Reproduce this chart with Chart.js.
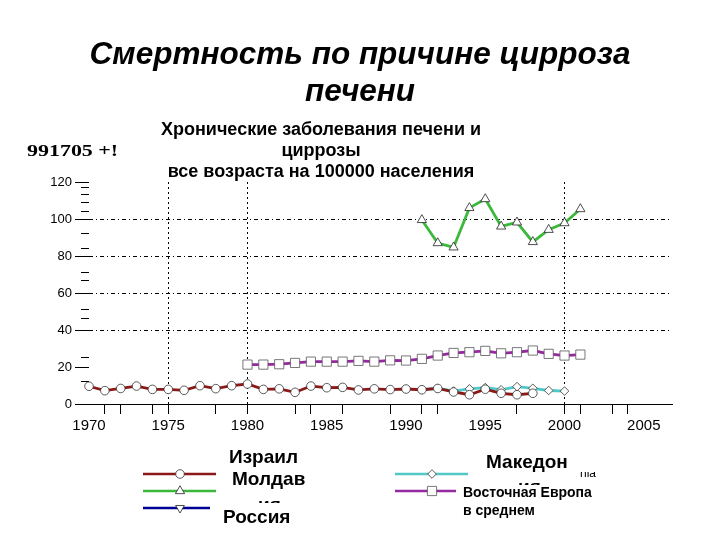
<!DOCTYPE html>
<html>
<head>
<meta charset="utf-8">
<script src="https://cdn.jsdelivr.net/npm/chart.js"></script>
<style>
  body { margin: 0; background: #fff; }
  #wrap { position: relative; width: 720px; height: 540px; overflow: hidden; font-family: "Liberation Sans", Arial, sans-serif; }
  #chart { position: absolute; left: 0; top: 0; }
  .t { position: absolute; white-space: nowrap; line-height: 1; color: #000; font-weight: bold; }
  .clip { position: absolute; overflow: hidden; }
  .clip span { position: absolute; left: 0; white-space: nowrap; line-height: 1; font-weight: bold; }
</style>
</head>
<body>
<div id="wrap">
  <canvas id="chart" width="720" height="540"></canvas>

  <div class="t" style="left:0; width:720px; top:35px; text-align:center; font-style:italic; font-size:31.5px; line-height:37px;">Смертность по причине цирроза<br>печени</div>
  <div class="t" style="left:121px; width:400px; top:119px; text-align:center; font-size:18px; line-height:21px;">Хронические заболевания печени и<br>циррозы<br>все возраста на 100000 населения</div>
  <div class="t" style="left:27px; top:143px; font-family:'Liberation Serif', 'Times New Roman', serif; font-size:16.5px; transform:scaleX(1.33); transform-origin:0 0;">991705 +!</div>

  <!-- legend labels -->
  <div class="t" style="left:229px; top:447px; font-size:19px;">Израил</div>
  <div class="t" style="left:232px; top:469px; font-size:19px;">Молдав</div>
  <div class="clip" style="left:258px; top:495px; width:40px; height:8px;"><span style="top:0; font-size:19px;">ия</span></div>
  <div class="t" style="left:223px; top:507px; font-size:19px;">Россия</div>

  <div class="t" style="left:486px; top:452px; font-size:19px;">Македон</div>
  <div class="clip" style="left:580px; top:472px; width:30px; height:7px;"><span style="top:-5px; font-size:12px; font-weight:normal;">nia</span></div>
  <div class="clip" style="left:518px; top:477px; width:30px; height:8px;"><span style="top:0; font-size:19px;">ия</span></div>
  <div class="t" style="left:463px; top:485px; font-size:14px;">Восточная Европа</div>
  <div class="t" style="left:463px; top:503px; font-size:14px;">в среднем</div>
</div>

<script>
// axis ticks
const labelYears = [1970, 1975, 1980, 1985, 1990, 1995, 2000, 2005];
const markYears = [1971, 1972, 1974, 1975, 1978, 1980, 1983, 1984, 1986, 1989, 1991, 1992, 1997, 2000, 2001, 2003, 2004];
const gridYears = [1975, 1980, 2000];
const yTicks = [0, 20, 40, 60, 80, 100, 120];
const yGridValues = [40, 60, 80, 100];
const yMinorTicks = [12, 25, 46, 51, 67, 71, 84, 92, 104, 109, 113, 117];

// series
const israelYears = [1970, 1971, 1972, 1973, 1974, 1975, 1976, 1977, 1978, 1979, 1980, 1981, 1982, 1983, 1984,
  1985, 1986, 1987, 1988, 1989, 1990, 1991, 1992, 1993, 1994, 1995, 1996, 1997, 1998];
const israel = [9.6, 7.2, 8.4, 9.7, 7.9, 7.9, 7.4, 9.9, 8.3, 9.9, 10.8, 7.9, 8.2, 6.3, 9.7,
  8.8, 9.0, 7.6, 8.2, 7.8, 8.1, 7.7, 8.4, 6.5, 5.0, 8.0, 5.8, 5.0, 5.8];

const moldovaYears = [1991, 1992, 1993, 1994, 1995, 1996, 1997, 1998, 1999, 2000, 2001];
const moldova = [99.5, 87, 84.7, 106, 110.8, 96, 98.2, 87.6, 94.2, 97.8, 105.4];

const russiaYears = [];
const russia = [];

const macedoniaYears = [1991, 1992, 1993, 1994, 1995, 1996, 1997, 1998, 1999, 2000];
const macedonia = [7.7, 8.5, 7.0, 8.2, 8.9, 7.7, 9.4, 8.5, 7.3, 7.0];

const eastEuropeYears = [1980, 1981, 1982, 1983, 1984, 1985, 1986, 1987, 1988, 1989, 1990,
  1991, 1992, 1993, 1994, 1995, 1996, 1997, 1998, 1999, 2000, 2001];
const eastEurope = [21.3, 21.3, 21.5, 22.2, 22.9, 22.9, 22.9, 23.3, 22.9, 23.6, 23.5,
  24.4, 26.2, 27.6, 28.0, 28.7, 27.4, 28.0, 28.9, 27.1, 26.2, 26.7];

const toPoints = (xs, ys) => xs.map((x, i) => ({ x: x, y: ys[i] }));
const allXTicks = [...new Set([...labelYears, ...markYears, ...gridYears])].sort((a, b) => a - b);

const series = [
  { label: 'Израиль', data: toPoints(israelYears, israel), color: 'rgb(140,24,24)', style: 'circle', radius: 4.3, rotation: 0, border: '#333' },
  { label: 'Молдавия', data: toPoints(moldovaYears, moldova), color: 'rgb(60,185,60)', style: 'triangle', radius: 5.3, rotation: 0, border: '#222' },
  { label: 'Россия', data: toPoints(russiaYears, russia), color: 'rgb(0,0,150)', style: 'triangle', radius: 5, rotation: 180, border: '#222' },
  { label: 'Macedonia', data: toPoints(macedoniaYears, macedonia), color: 'rgb(80,200,200)', style: 'rectRot', radius: 4.3, rotation: 0, border: '#333' },
  { label: 'Восточная Европа в среднем', data: toPoints(eastEuropeYears, eastEurope), color: 'rgb(150,40,160)', style: 'rect', radius: 6.5, rotation: 0, border: '#555' }
];

// legend samples under the plot
const legendSamples = [
  { x1: 143, x2: 216, y: 474, mx: 180 },
  { x1: 143, x2: 216, y: 491, mx: 180 },
  { x1: 143, x2: 210, y: 508, mx: 180 },
  { x1: 395, x2: 468, y: 474, mx: 432 },
  { x1: 395, x2: 456, y: 491, mx: 432 }
];

const legendPlugin = {
  id: 'bottomLegend',
  afterDraw(chart) {
    const ctx = chart.ctx;
    series.forEach((s, i) => {
      const p = legendSamples[i];
      ctx.save();
      ctx.strokeStyle = s.color;
      ctx.lineWidth = 2.5;
      ctx.beginPath();
      ctx.moveTo(p.x1, p.y);
      ctx.lineTo(p.x2, p.y);
      ctx.stroke();
      ctx.fillStyle = '#fff';
      ctx.strokeStyle = s.border;
      ctx.lineWidth = 0.8;
      Chart.helpers.drawPoint(ctx, { pointStyle: s.style, radius: s.radius, rotation: s.rotation, borderWidth: 0.8 }, p.mx, p.y);
      ctx.restore();
    });
  }
};

new Chart(document.getElementById('chart'), {
  type: 'line',
  data: {
    datasets: series.map(s => ({
      label: s.label,
      data: s.data,
      borderColor: s.color,
      borderWidth: 2.8,
      pointStyle: s.style,
      pointRadius: s.radius,
      pointRotation: s.rotation,
      pointBackgroundColor: '#fff',
      pointBorderColor: s.border,
      pointBorderWidth: 0.8,
      tension: 0,
      clip: false
    }))
  },
  options: {
    responsive: false,
    animation: false,
    events: [],
    layout: { padding: { top: 182, right: 48, bottom: 0, left: 0 } },
    plugins: {
      legend: { display: false },
      tooltip: { enabled: false }
    },
    scales: {
      x: {
        type: 'linear',
        min: 1970,
        max: 2006.78,
        afterBuildTicks: s => { s.ticks = allXTicks.map(v => ({ value: v })); },
        afterFit: s => { s.height = 136; },
        ticks: {
          autoSkip: false,
          maxRotation: 0,
          color: '#000',
          padding: 3,
          font: { family: '"Liberation Sans", Arial, sans-serif', size: 15 },
          callback: v => labelYears.includes(v) ? String(v) : ''
        },
        grid: {
          color: c => (c.tick && gridYears.includes(c.tick.value)) ? '#000' : 'rgba(0,0,0,0)',
          tickColor: c => (c.tick && markYears.includes(c.tick.value)) ? '#000' : 'rgba(0,0,0,0)',
          tickLength: 10,
          lineWidth: 1
        },
        border: { display: true, color: '#000', width: 1, dash: [2, 3] }
      },
      y: {
        type: 'linear',
        position: 'left',
        weight: 1,
        min: 0,
        max: 120,
        afterBuildTicks: s => { s.ticks = yTicks.map(v => ({ value: v })); },
        afterFit: s => { s.width = 89; },
        ticks: {
          color: '#000',
          padding: 3,
          font: { family: '"Liberation Sans", Arial, sans-serif', size: 13 }
        },
        grid: {
          color: c => (c.tick && yGridValues.includes(c.tick.value)) ? '#000' : 'rgba(0,0,0,0)',
          tickColor: '#000',
          tickLength: 14,
          lineWidth: 1
        },
        border: { display: false, dash: [4, 3, 1, 3] }
      },
      yMinor: {
        type: 'linear',
        position: 'left',
        weight: 0,
        min: 0,
        max: 120,
        afterBuildTicks: s => { s.ticks = yMinorTicks.map(v => ({ value: v })); },
        afterFit: s => { s.width = 0; },
        ticks: { display: false },
        grid: { drawOnChartArea: false, tickColor: '#000', tickLength: 8 },
        border: { display: false }
      }
    }
  },
  plugins: [legendPlugin]
});
</script>
</body>
</html>
